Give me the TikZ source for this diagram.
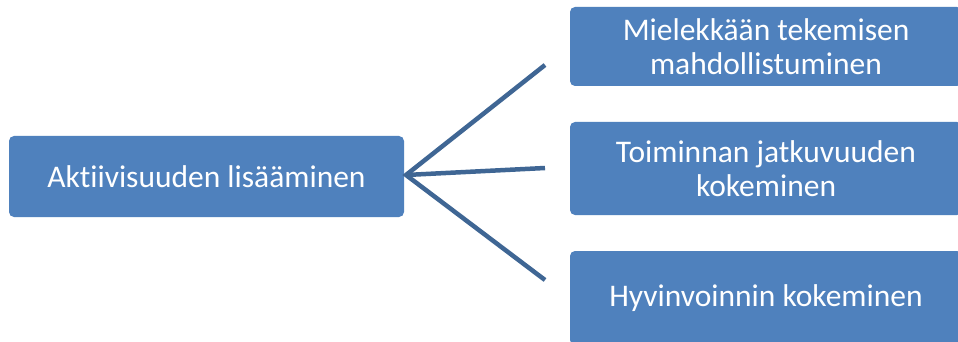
\documentclass[tikz,border=0pt]{standalone}
\usepackage{fontspec}
\setmainfont{Carlito}[Ligatures=NoCommon]
\definecolor{boxblue}{HTML}{4F81BD}
\definecolor{linkblue}{HTML}{3F6694}
\begin{document}
\begin{tikzpicture}[x=1pt,y=-1pt,
  box/.style={rectangle, rounded corners=5pt, fill=boxblue, text=white,
    align=center, inner sep=0pt, font=\fontsize{31.5}{34}\selectfont},
  link/.style={draw=linkblue, line width=4.5pt}]
\clip (0,0) rectangle (958,342);
\fill[white] (0,0) rectangle (958,342);

\node[box, minimum width=395pt, minimum height=81pt] (L) at (206.5,176.5) {Aktiivisuuden lisääminen};
\node[box, minimum width=392pt, minimum height=79pt] (T) at (766,46.5) {Mielekkään tekemisen\\mahdollistuminen};
\node[box, minimum width=392pt, minimum height=93pt] (M) at (766,168.5) {Toiminnan jatkuvuuden\\kokeminen};
\node[box, minimum width=392pt, minimum height=94pt] (B) at (766,298) {Hyvinvoinnin kokeminen};

\coordinate (hub) at (406,175);
\coordinate (e1) at (545,65);
\coordinate (e2) at (545,168);
\coordinate (e3) at (545,280);

\draw[link] (e1) -- (hub) -- (e3);
\draw[link] (hub) -- (e2);
\end{tikzpicture}
\end{document}
